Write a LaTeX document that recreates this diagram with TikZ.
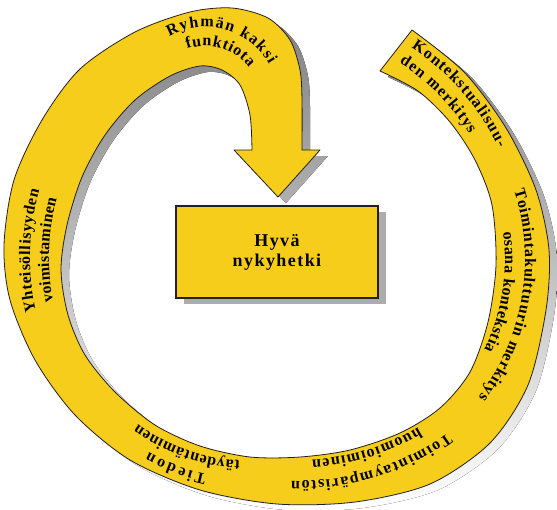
\documentclass[tikz,border=0pt]{standalone}
\usepackage{fontspec}
\setmainfont{Liberation Serif}
\usetikzlibrary{decorations.text}
\definecolor{gold}{RGB}{247,205,28}
\definecolor{shade}{RGB}{172,172,172}
\definecolor{ink}{RGB}{35,31,32}
\newfontfamily\boxfont{Liberation Serif}[LetterSpace=8]
\newcommand\lblf{\fontsize{16}{18}\selectfont\bfseries}
\newcommand\bandpath{plot[smooth] coordinates {(412,-30) (464,-72) (506,-128) (536,-190) (549,-250) (546,-310) (528,-385) (490,-443) (430,-484) (355,-502) (277,-504) (200,-490) (130,-460) (75,-415) (35,-360) (10,-300) (4,-245) (14,-180) (42,-120) (80,-69) (135,-32) (190,-12) (232,-8) (268,-18) (290,-40) (300,-70) (302,-100) (302,-150)}
 -- (320,-150) -- (278,-197) -- (234,-150) -- (252,-150)
 -- plot[smooth] coordinates {(252,-150) (250,-115) (240,-85) (222,-70) (200,-66) (170,-76) (135,-100) (105,-135) (82,-177) (67,-225) (61,-270) (68,-315) (85,-355) (115,-392) (155,-425) (200,-446) (250,-457) (300,-457) (350,-450) (400,-433) (440,-408) (470,-372) (488,-322) (496,-265) (492,-205) (475,-160) (450,-122) (418,-91) (380,-71)} -- cycle}
\tikzset{
  lbl/.style={decorate, decoration={text along path, text align={fit to path}, text={|\lblf|#1}}},
  boxstyle/.style={minimum width=202, minimum height=92, inner sep=0pt},
}
\begin{document}
\begin{tikzpicture}[x=1pt,y=1pt]
\useasboundingbox (0,0) rectangle (557,-509);
% shadows
\begin{scope}[shift={(8,-6)}]
  \fill[shade] \bandpath;
\end{scope}
\node[boxstyle, fill=shade] (boxshadow) at (285,-258) {};
% band
\filldraw[fill=gold, draw=ink, line width=0.8pt, line join=round] \bandpath;
% box
\node[boxstyle, fill=gold, draw=ink, line width=2.2pt, align=center,
      font=\boxfont\bfseries\fontsize{18}{20}\selectfont] (box) at (277,-252) {Hyvä\\nykyhetki};
% labels
\path[lbl={Ryhmän kaksi}] (205,-101) ++(119:74) arc[start angle=119, end angle=30, radius=74];
\path[lbl={funktiota}] (205,-101) ++(109:55) arc[start angle=109, end angle=37, radius=55];
\path[lbl={Kontekstualisuu-}] (280,-250) ++(57:241) arc[start angle=57, end angle=25, radius=241];
\path[lbl={den merkitys}] (280,-250) ++(57.5:222) arc[start angle=57.5, end angle=31.5, radius=222];
\path[lbl={Toimintakulttuurin merkitys}] (300,-260) ++(18:225) arc[start angle=18, end angle=-37.5, radius=225];
\path[lbl={osana kontekstia}] (300,-260) ++(7.7:205) arc[start angle=7.7, end angle=-26, radius=205];
\path[lbl={Toimintaympäristön}] (300,-230) ++(-54:251) arc[start angle=-54, end angle=-92, radius=251];
\path[lbl={huomioiminen}] (300,-230) ++(-59:230) arc[start angle=-59, end angle=-87, radius=230];
\path[lbl={Tiedon}] (250,-270) ++(-102:209) arc[start angle=-102, end angle=-119, radius=209];
\path[lbl={täydentäminen}] (250,-270) ++(-93:191) arc[start angle=-93, end angle=-126, radius=191];
\path[lbl={Yhteisöllisyyden}] (277,-258) ++(192.5:247) arc[start angle=192.5, end angle=164, radius=247];
\path[lbl={voimistaminen}] (277,-258) ++(191:228) arc[start angle=191, end angle=165, radius=228];
\end{tikzpicture}
\end{document}
